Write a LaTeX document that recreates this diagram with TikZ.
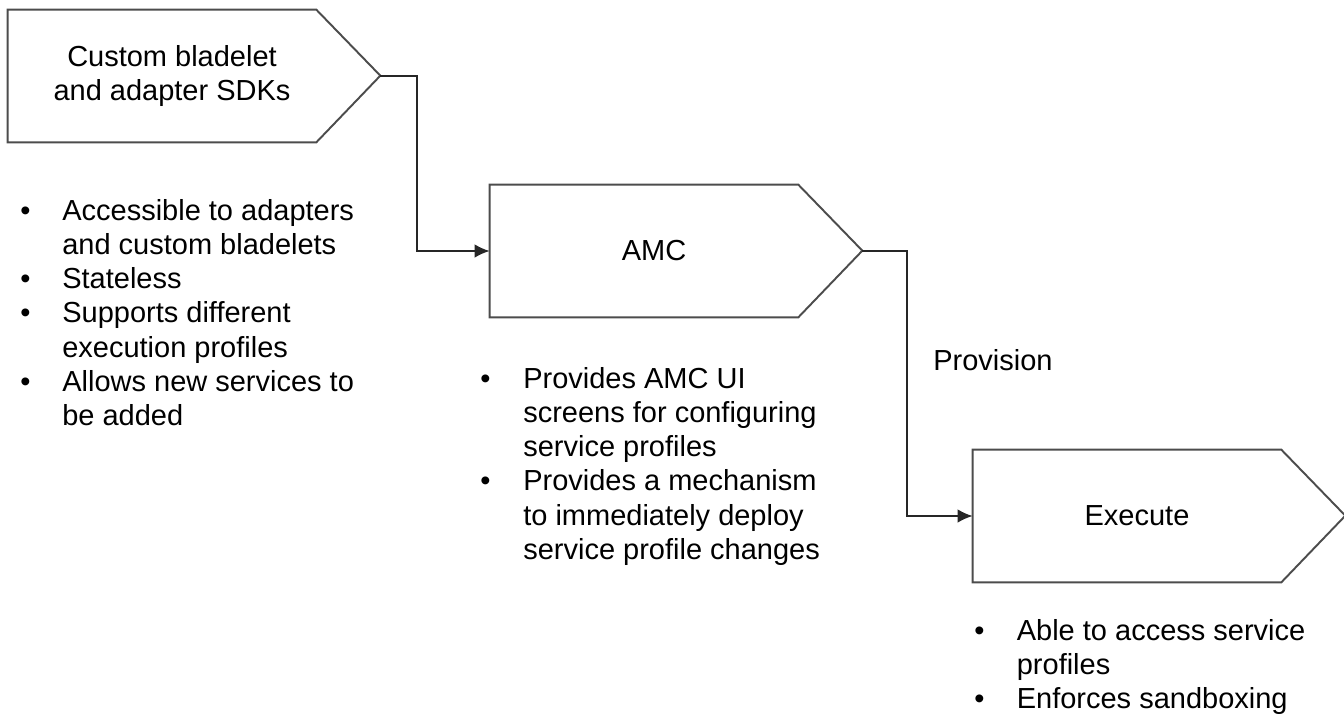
\documentclass[tikz,border=0pt]{standalone}
\usepackage{fontspec}
\setmainfont{Liberation Sans}
\usetikzlibrary{arrows.meta}
\usetikzlibrary{positioning}
\tikzset{
    stage/.style={
        minimum width=5.76cm,
        minimum height=2.64cm,
        inner sep=0pt,
        align=center,
        font=\fontsize{16.5}{19.4}\selectfont
    },
    outline/.style={
        draw=black!70,
        line width=1.1pt,
        line join=miter
    },
    link/.style={
        draw=black!85,
        line width=1pt,
        -{Latex[length=3mm, width=2.7mm]}
    },
    notes/.style={
        inner sep=0pt,
        anchor=base west,
        font=\fontsize{16.5}{19.5}\selectfont
    }
}

\begin{document}
\begin{tikzpicture}[x=0.02cm, y=-0.02cm]
    \useasboundingbox (0,0) rectangle (1344,717);

    % Stages
    \node[stage] (sdk) at (172,76) {Custom bladelet\\and adapter SDKs};
    \node[stage] (amc) at (654,251) {AMC};
    \node[stage] (exec) at (1137,516) {Execute};

    \draw[outline] ([xshift=-0.4cm]sdk.north west) -- (sdk.north east) -- ++(64,66) coordinate (sdk tip)
        -- (sdk.south east) -- ([xshift=-0.4cm]sdk.south west) -- cycle;
    \draw[outline] ([xshift=-0.4cm]amc.north west) -- (amc.north east) -- ++(64,66) coordinate (amc tip)
        -- (amc.south east) -- ([xshift=-0.4cm]amc.south west) -- cycle;
    \draw[outline] ([xshift=-0.4cm]exec.north west) -- (exec.north east) -- ++(64,66) coordinate (exec tip)
        -- (exec.south east) -- ([xshift=-0.4cm]exec.south west) -- cycle;

    % Connectors
    \draw[link] (sdk tip) -- ++(37,0) |- ([xshift=-0.4cm]amc.west);
    \draw[link] (amc tip) -- ++(45,0) |- ([xshift=-0.4cm]exec.west);
    \node[notes] (prov) at (933,370) {Provision};

    % Notes under each stage
    \node[notes] (sdknotes) at (20,220) {\begin{tabular}[t]{@{}p{0.84cm}@{}l@{}}
        \textbullet & Accessible to adapters\\
                    & and custom bladelets\\
        \textbullet & Stateless\\
        \textbullet & Supports different\\
                    & execution profiles\\
        \textbullet & Allows new services to\\
                    & be added
    \end{tabular}};
    \node[notes] (amcnotes) at (480,388) {\begin{tabular}[t]{@{}p{0.86cm}@{}l@{}}
        \textbullet & Provides AMC UI\\
                    & screens for configuring\\
                    & service profiles\\
        \textbullet & Provides a mechanism\\
                    & to immediately deploy\\
                    & service profile changes
    \end{tabular}};
    \node[notes] (execnotes) at (974,640) {\begin{tabular}[t]{@{}p{0.85cm}@{}l@{}}
        \textbullet & Able to access service\\
                    & profiles\\
        \textbullet & Enforces sandboxing
    \end{tabular}};
\end{tikzpicture}
\end{document}
